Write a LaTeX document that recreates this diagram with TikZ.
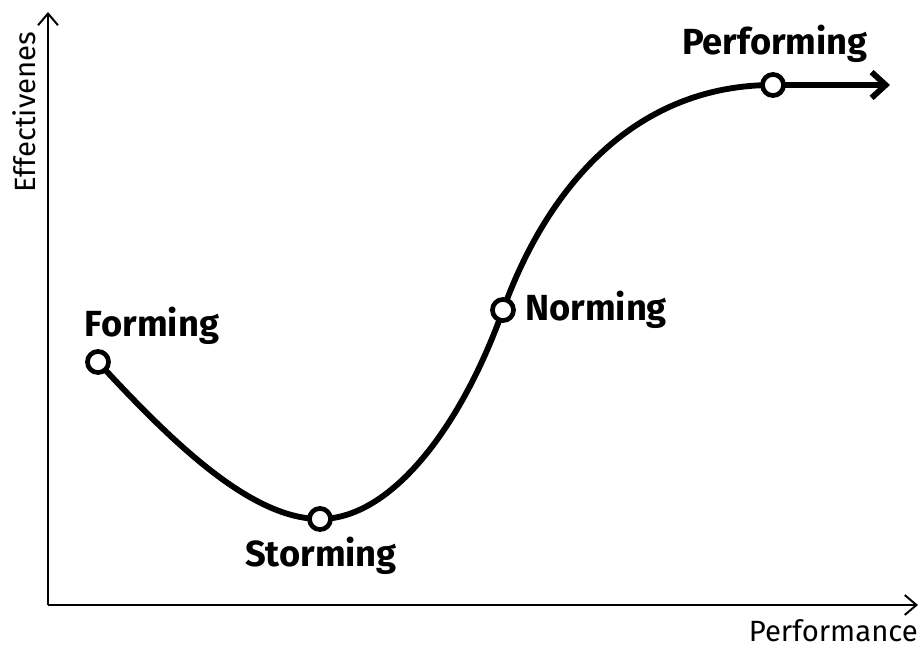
\documentclass[tikz,border=0pt]{standalone}
\usepackage{fontspec}
\setmainfont{Fira Sans}
\usetikzlibrary{arrows.meta}
\begin{document}
\begin{tikzpicture}[x=0.03cm,y=-0.03cm,
  axis/.style={line width=1.7pt,-{Straight Barb[length=10pt,width=17pt,line width=1.7pt]}},
  curve/.style={line width=5pt},
  stagept/.style={circle,draw,fill=white,line width=4pt,minimum size=18pt,inner sep=0pt},
  stagelbl/.style={font=\fontsize{31}{34}\selectfont\bfseries,inner sep=0pt},
  axislbl/.style={font=\fontsize{25}{28}\selectfont,inner sep=0pt}]
\useasboundingbox (0,0) rectangle (922,648);
\coordinate (o) at (48,605);
\coordinate (ytip) at (48,12);
\coordinate (xtip) at (918,605);
\draw[axis] (o) -- (ytip);
\draw[axis] (o) -- (xtip);
\node[axislbl,rotate=90] (ylab) at (24,112) {Effectivenes};
\node[axislbl,anchor=base east] (xlab) at (918,641) {Performance};
\coordinate (f) at (98,362);
\coordinate (s) at (320,519);
\coordinate (n) at (503,310);
\coordinate (p) at (773,85);
\coordinate (end) at (890,85);
\draw[curve] (f) .. controls (170,440) and (250,519) .. (s)
  .. controls (390,519) and (460,430) .. (n)
  .. controls (550,180) and (640,85) .. (p);
\draw[curve,-{Straight Barb[length=12pt,width=22pt,line width=5pt]}] (p) -- (end);
\node[stagept] (fp) at (f) {};
\node[stagept] (sp) at (s) {};
\node[stagept] (np) at (n) {};
\node[stagept] (pp) at (p) {};
\node[stagelbl] (fl) at (152,326) {Forming};
\node[stagelbl] (sl) at (321,556) {Storming};
\node[stagelbl,anchor=west] (nl) at (525,310) {Norming};
\node[stagelbl] (pl) at (775,44) {Performing};
\end{tikzpicture}
\end{document}
